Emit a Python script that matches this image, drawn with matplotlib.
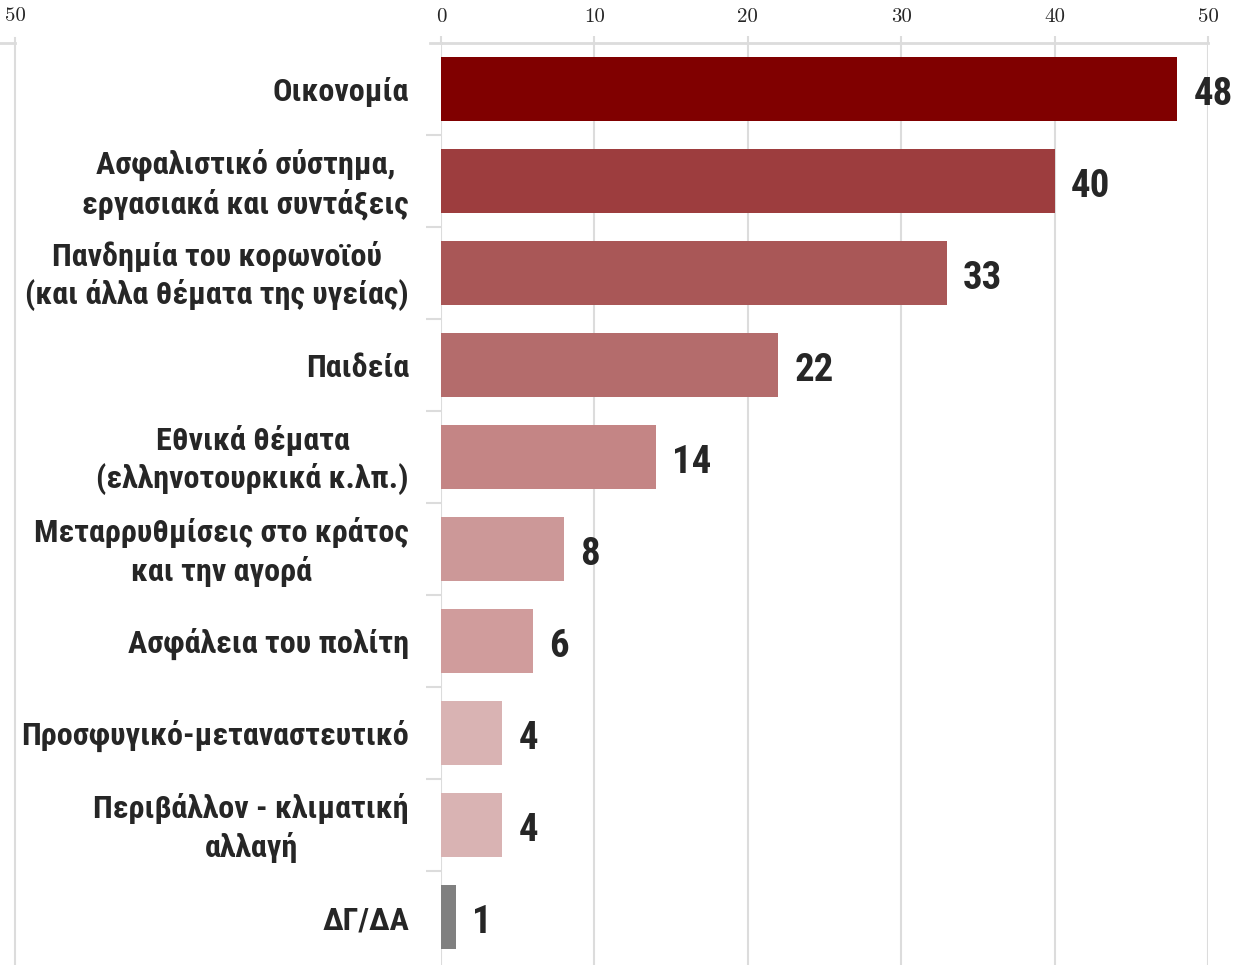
import matplotlib
matplotlib.use("Agg")
import matplotlib.pyplot as plt
from matplotlib.lines import Line2D
from matplotlib import font_manager as fm

categories = [
    "Οικονομία",
    "Ασφαλιστικό σύστημα,\nεργασιακά και συντάξεις",
    "Πανδημία του κορωνοϊού\n(και άλλα θέματα της υγείας)",
    "Παιδεία",
    "Εθνικά θέματα\n(ελληνοτουρκικά κ.λπ.)",
    "Μεταρρυθμίσεις στο κράτος\nκαι την αγορά",
    "Ασφάλεια του πολίτη",
    "Προσφυγικό-μεταναστευτικό",
    "Περιβάλλον - κλιματική\nαλλαγή",
    "ΔΓ/ΔΑ",
]
values = [48, 40, 33, 22, 14, 8, 6, 4, 4, 1]
bar_colors = ["#800000", "#9d3d3e", "#a95757", "#b46c6c", "#c48585",
              "#cc9898", "#d09c9c", "#d9b3b3", "#d9b3b3", "#808080"]
xticks = [0, 10, 20, 30, 40, 50]

# pick a condensed bold font file if available
cands = []
for f in fm.fontManager.ttflist:
    n = f.name.lower()
    fn = f.fname.lower()
    if ("narrow" in n or "condensed" in n or "condensed" in fn or "narrow" in fn) and \
       (f.weight in ("bold", 700) or "bold" in fn):
        cands.append(f)
pref = ["liberation sans narrow", "roboto condensed", "dejavu sans condensed", "dejavu sans"]
chosen = None
for p in pref:
    for f in cands:
        if p in f.name.lower() or p.replace(" ", "") in f.fname.lower().replace("-", ""):
            if "oblique" not in f.fname.lower() and "italic" not in f.fname.lower():
                chosen = f
                break
    if chosen:
        break
if chosen is None:
    for f in cands:
        if "oblique" not in f.fname.lower() and "italic" not in f.fname.lower():
            chosen = f
            break
if chosen is not None:
    lab_fp = fm.FontProperties(fname=chosen.fname)
else:
    lab_fp = fm.FontProperties(family="DejaVu Sans", weight="bold")

W, H = 1250, 965
fig = plt.figure(figsize=(W / 100, H / 100), dpi=100)
ax = fig.add_axes([441 / W, 0.0, (1208 - 441) / W, 1 - 43 / H])

grid_c = "#dcdcdc"
text_c = "#262626"

y = list(range(len(categories)))
ax.barh(y, values, height=0.7, color=bar_colors, zorder=3)
ax.set_xlim(0, 50)
ax.set_ylim(len(categories) - 0.5 + 0.02, -0.5)

val_fp = lab_fp.copy()
val_fp.set_size(28)
cat_fp = lab_fp.copy()
cat_fp.set_size(23.1)

for yi, v in zip(y, values):
    ax.annotate(str(v), (v, yi), xytext=(16, -5), textcoords="offset pixels",
                ha="left", va="center", fontproperties=val_fp,
                color=text_c, zorder=4)

for yi, c in zip(y, categories):
    ax.annotate(c, (0, yi), xytext=(-32, -3), textcoords="offset pixels",
                ha="right", va="center", multialignment="center",
                fontproperties=cat_fp, color=text_c, linespacing=1.3)

ax.xaxis.tick_top()
ax.set_xticks(xticks)
ax.set_xticklabels([str(t) for t in xticks], family="cmr10", fontsize=15, color=text_c)
ax.tick_params(axis="x", length=5, color=grid_c, width=1.5, pad=7)
ax.set_yticks([])
ax.set_yticks([i + 0.5 for i in range(len(categories) - 1)], minor=True)
ax.tick_params(axis="y", which="minor", length=11, color=grid_c, width=1.5)
ax.grid(axis="x", color=grid_c, linewidth=1.5, zorder=0)
for s in ["right", "bottom", "left"]:
    ax.spines[s].set_visible(False)
ax.spines["top"].set_color(grid_c)
ax.spines["top"].set_linewidth(2)
ax.spines["top"].set_zorder(1)

fig.add_artist(Line2D([430 / W, 441 / W], [1 - 43 / H, 1 - 43 / H],
                      color=grid_c, linewidth=2))
fig.add_artist(Line2D([15 / W, 15 / W], [0, 1 - 38 / H], color=grid_c, linewidth=1.5))
fig.add_artist(Line2D([0, 15 / W], [1 - 43 / H, 1 - 43 / H], color=grid_c, linewidth=2))
fig.text(15 / W, 1 - 16 / H, "50", family="cmr10", fontsize=15, color=text_c,
         ha="center", va="center")

fig.savefig("out.png", dpi=100, facecolor="white")
